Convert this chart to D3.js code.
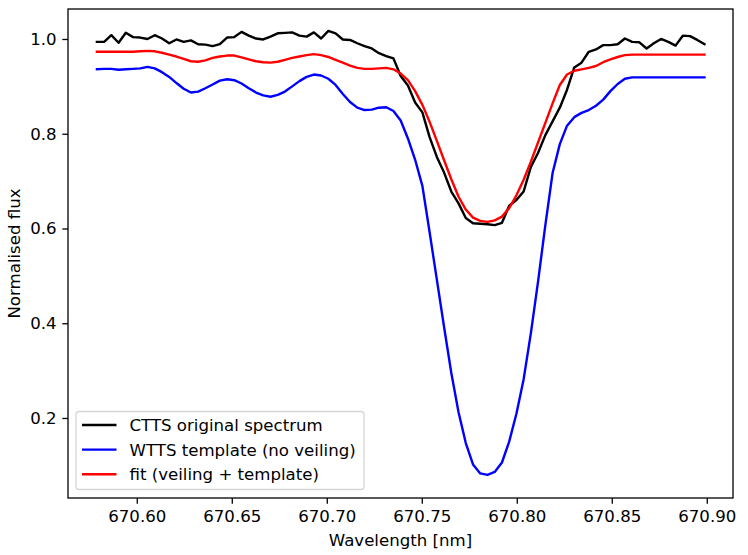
<!DOCTYPE html>
<html>
<head>
<meta charset="utf-8">
<script src="https://cdn.jsdelivr.net/npm/d3@7"></script>
<style>
  body { margin: 0; background: #fff; }
  svg text { font-family: "DejaVu Sans", sans-serif; }
</style>
</head>
<body>
<svg id="chart" width="748" height="555"></svg>
<script>
// wavelength grid (nm) of the spectra
var nPoints = 85, lamStart = 670.579, lamStep = 0.003807;
var wavelength = d3.range(nPoints).map(function (i) { return lamStart + i * lamStep; });

// CTTS observed spectrum
var ctts = [
  0.994, 0.994, 1.008, 0.992, 1.013, 1.004, 1.003, 1.000, 1.008, 1.001,
  0.991, 0.999, 0.994, 0.997, 0.989, 0.988, 0.985, 0.989, 1.003, 1.004,
  1.015, 1.007, 1.001, 0.999, 1.005, 1.012, 1.013, 1.014, 1.007, 1.005,
  1.014, 1.001, 1.017, 1.012, 0.999, 0.998, 0.991, 0.985, 0.980, 0.970,
  0.964, 0.959, 0.922, 0.902, 0.866, 0.845, 0.793, 0.751, 0.718, 0.678,
  0.653, 0.622, 0.611, 0.610, 0.609, 0.607, 0.612, 0.648, 0.660, 0.678,
  0.730, 0.760, 0.797, 0.826, 0.855, 0.893, 0.940, 0.950, 0.973, 0.978,
  0.987, 0.987, 0.989, 1.001, 0.994, 0.993, 0.980, 0.991, 1.000, 0.994,
  0.986, 1.007, 1.006, 0.998, 0.989
];

// WTTS template, no veiling
var wtts = [
  0.936, 0.937, 0.937, 0.935, 0.936, 0.937, 0.938, 0.941, 0.938, 0.930,
  0.920, 0.907, 0.895, 0.887, 0.889, 0.896, 0.904, 0.912, 0.915, 0.913,
  0.906, 0.896, 0.887, 0.881, 0.878, 0.882, 0.889, 0.900, 0.911, 0.920,
  0.925, 0.923, 0.916, 0.903, 0.884, 0.867, 0.855, 0.850, 0.851, 0.855,
  0.856, 0.848, 0.828, 0.790, 0.745, 0.690, 0.592, 0.492, 0.392, 0.295,
  0.212, 0.147, 0.102, 0.083, 0.080, 0.086, 0.106, 0.150, 0.209, 0.282,
  0.379, 0.489, 0.607, 0.717, 0.778, 0.817, 0.835, 0.844, 0.850, 0.859,
  0.872, 0.890, 0.905, 0.916, 0.919, 0.919, 0.919, 0.919, 0.919, 0.919,
  0.919, 0.919, 0.919, 0.919, 0.919
];

// fit: veiling + template
var fit = [
  0.973, 0.973, 0.973, 0.973, 0.973, 0.973, 0.974, 0.975, 0.974, 0.971,
  0.967, 0.963, 0.958, 0.953, 0.952, 0.955, 0.960, 0.963, 0.965, 0.965,
  0.961, 0.957, 0.953, 0.951, 0.950, 0.952, 0.956, 0.960, 0.963, 0.966,
  0.968, 0.966, 0.962, 0.956, 0.950, 0.944, 0.939, 0.937, 0.937, 0.938,
  0.939, 0.936, 0.927, 0.913, 0.890, 0.861, 0.825, 0.785, 0.744, 0.704,
  0.667, 0.640, 0.623, 0.616, 0.614, 0.617, 0.625, 0.643, 0.670, 0.703,
  0.741, 0.782, 0.823, 0.864, 0.903, 0.925, 0.933, 0.936, 0.939, 0.943,
  0.951, 0.957, 0.962, 0.966, 0.967, 0.967, 0.967, 0.967, 0.967, 0.967,
  0.967, 0.967, 0.967, 0.967, 0.967
];

var seriesNames = ["CTTS original spectrum", "WTTS template (no veiling)", "fit (veiling + template)"];
var seriesColors = ["#000000", "#0000ff", "#ff0000"];
var seriesValues = [ctts, wtts, fit];

var xTicks = [670.60, 670.65, 670.70, 670.75, 670.80, 670.85, 670.90];
var yTicks = [0.2, 0.4, 0.6, 0.8, 1.0];

// Layout
var svg = d3.select("#chart");
var plot = { left: 68, right: 733, top: 9, bottom: 498 };
var fontSize = 16.6, tickLen = 5.7;

var x = d3.scaleLinear().domain([670.5638, 670.9138]).range([plot.left, plot.right]);
var y = d3.scaleLinear().domain([0.0311, 1.0633]).range([plot.bottom, plot.top]);

// Curves
var line = d3.line()
    .x(function (d) { return x(d[0]); })
    .y(function (d) { return y(d[1]); });

seriesValues.forEach(function (vals, k) {
    svg.append("path")
        .datum(wavelength.map(function (w, i) { return [w, vals[i]]; }))
        .attr("fill", "none")
        .attr("stroke", seriesColors[k])
        .attr("stroke-width", 2.4)
        .attr("stroke-linejoin", "round")
        .attr("stroke-linecap", "square")
        .attr("d", line);
});

// Axes
var xAxis = svg.append("g")
    .attr("transform", "translate(0," + plot.bottom + ")")
    .call(d3.axisBottom(x).tickValues(xTicks).tickFormat(d3.format(".2f"))
        .tickSize(tickLen).tickSizeOuter(0).tickPadding(7));
var yAxis = svg.append("g")
    .attr("transform", "translate(" + plot.left + ",0)")
    .call(d3.axisLeft(y).tickValues(yTicks).tickFormat(d3.format(".1f"))
        .tickSize(tickLen).tickSizeOuter(0).tickPadding(5.7));

[xAxis, yAxis].forEach(function (a) {
    a.select(".domain").remove();
    a.selectAll(".tick line").attr("stroke", "#000").attr("stroke-width", 1.3);
    a.selectAll(".tick text")
        .attr("fill", "#000")
        .style("font-size", fontSize + "px")
        .style("font-family", "'DejaVu Sans', sans-serif");
});

// Frame
svg.append("rect")
    .attr("x", plot.left).attr("y", plot.top)
    .attr("width", plot.right - plot.left).attr("height", plot.bottom - plot.top)
    .attr("fill", "none").attr("stroke", "#000").attr("stroke-width", 1.3);

// Axis labels
svg.append("text")
    .attr("x", (plot.left + plot.right) / 2).attr("y", 546)
    .attr("text-anchor", "middle")
    .style("font-size", fontSize + "px")
    .text("Wavelength [nm]");
svg.append("text")
    .attr("transform", "translate(19.5," + (plot.top + plot.bottom) / 2 + ") rotate(-90)")
    .attr("text-anchor", "middle")
    .style("font-size", fontSize + "px")
    .text("Normalised flux");

// Legend
var leg = svg.append("g");
leg.append("rect")
    .attr("x", 76).attr("y", 411.5)
    .attr("width", 288).attr("height", 78)
    .attr("rx", 3)
    .attr("fill", "#fff").attr("fill-opacity", 0.8)
    .attr("stroke", "#d6d6d6").attr("stroke-width", 1.3);

seriesNames.forEach(function (name, k) {
    var ry = 425 + k * 24.6;
    leg.append("line")
        .attr("x1", 82).attr("x2", 116.5)
        .attr("y1", ry).attr("y2", ry)
        .attr("stroke", seriesColors[k]).attr("stroke-width", 2.4);
    leg.append("text")
        .attr("x", 129.5).attr("y", ry + 6)
        .style("font-size", fontSize + "px")
        .text(name);
});
</script>
</body>
</html>
